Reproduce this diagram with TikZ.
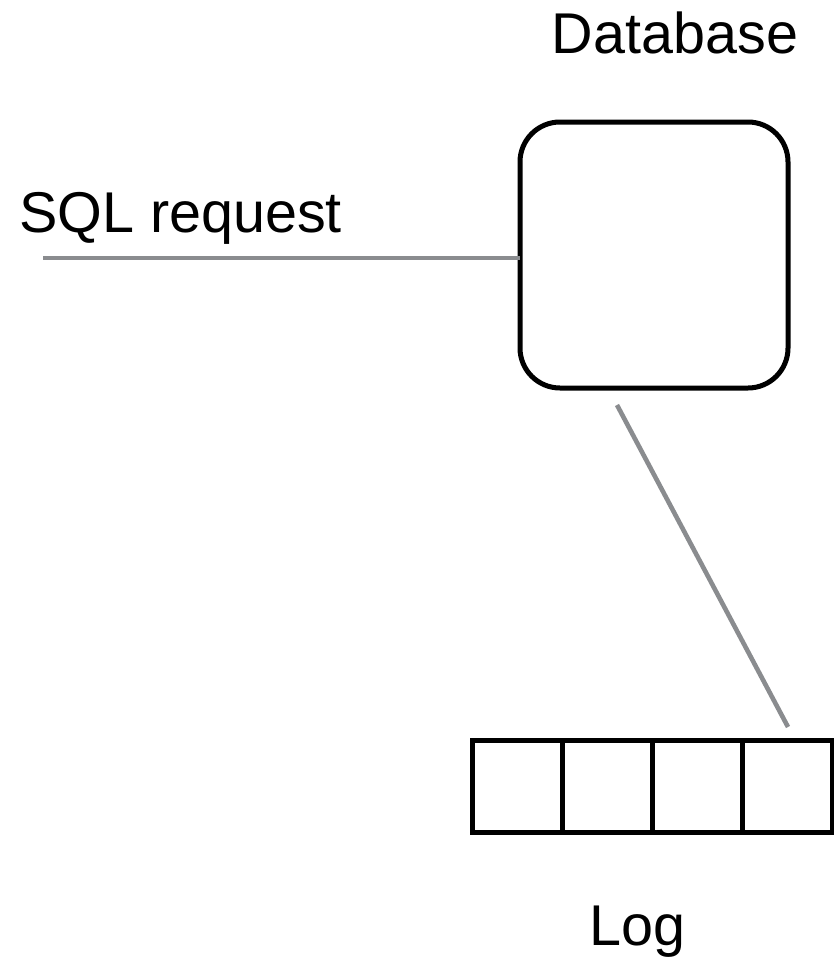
\documentclass[tikz,border=0pt]{standalone}
\usepackage{fontspec}
\setmainfont{Liberation Sans}
\definecolor{linegray}{RGB}{138,140,143}
\begin{document}
\begin{tikzpicture}[x=1pt,y=-1pt,
  lbl/.style={font=\fontsize{57.5}{60}\selectfont, inner sep=0pt, anchor=base},
  dbbox/.style={draw=black, line width=5pt, rounded corners=40pt, minimum width=268pt, minimum height=266pt, inner sep=0pt, outer sep=0pt},
  cell/.style={draw=black, line width=5pt, minimum width=90pt, minimum height=92pt, inner sep=0pt, outer sep=0pt},
  conn/.style={draw=linegray, line width=4.6pt}]
\useasboundingbox (0,0) rectangle (834,958);
\node[lbl] (dbl) at (675,53) {Database};
\node[lbl, anchor=base west] (sql) at (19,232) {SQL request};
\node[lbl] (logl) at (637.5,945) {Log};
\node[dbbox] (db) at (654,255) {};
\node[cell] (c1) at (517.5,786.5) {};
\node[cell] (c2) at (607.5,786.5) {};
\node[cell] (c3) at (697.5,786.5) {};
\node[cell] (c4) at (787.5,786.5) {};
\coordinate (sqlstart) at (43,258);
\coordinate (dstart) at (617,405);
\coordinate (dend) at (788,727);
\draw[conn] (sqlstart) -- (sqlstart -| db.west);
\draw[conn] (dstart) -- (dend);
\end{tikzpicture}
\end{document}
